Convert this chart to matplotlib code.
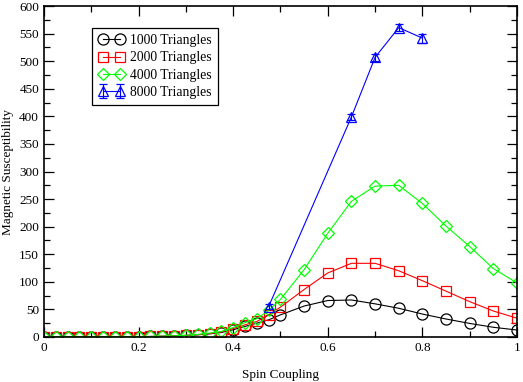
import matplotlib

matplotlib.use("Agg")
import matplotlib.pyplot as plt
import numpy as np

plt.rcParams["font.family"] = ["Liberation Serif", "DejaVu Serif"]
plt.rcParams["mathtext.fontset"] = "stix"

# spin coupling grid: fine steps up to 0.5, then 0.05
x_fine = [0.0, 0.025, 0.05, 0.075, 0.1, 0.125, 0.15, 0.175, 0.2, 0.225, 0.25,
          0.275, 0.3, 0.325, 0.35, 0.375, 0.4, 0.425, 0.45, 0.475]
x_coarse = [0.5, 0.55, 0.6, 0.65, 0.7, 0.75, 0.8, 0.85, 0.9, 0.95, 1.0]
x_small = x_fine + x_coarse

low_1000 = [0, 0, 0, 0, 0, 0, 0.2, 0.3, 0.5, 0.8, 1.2, 1.8, 2.6, 3.8, 5.5, 8, 13, 19, 25, 31]
low_2000 = [0, 0, 0, 0, 0, 0, 0.2, 0.3, 0.5, 0.8, 1.2, 1.8, 2.8, 4, 6, 9, 15, 22, 28, 40]
low_4000 = [0, 0, 0, 0, 0, 0, 0.2, 0.3, 0.5, 0.8, 1.3, 1.9, 3, 4.5, 7, 10, 17, 26, 33, 48]

chi_1000 = low_1000 + [40, 56, 66, 67, 60, 52, 41.5, 32.5, 24.5, 17.5, 12.5]
chi_2000 = low_2000 + [54, 86, 116, 133.5, 133.5, 120, 102, 83, 64, 47, 34]
chi_4000 = low_4000 + [68, 122, 188, 246, 273.5, 275, 242, 201, 164, 124, 98]

x_8000 = [0.475, 0.65, 0.7, 0.75, 0.8]
chi_8000 = [55, 399, 507, 561, 542]
err_8000 = [4, 5, 6, 7, 8]

fig = plt.figure(figsize=(5.23, 3.82), dpi=100)
ax = fig.add_axes([0.084, 0.118, 0.9045, 0.866])

ax.plot(x_small, chi_1000, "-o", color="black", lw=0.8, ms=8, mfc="none", mew=0.9,
        label="1000 Triangles")
ax.plot(x_small, chi_2000, "-s", color="#ff0000", lw=0.8, ms=7.5, mfc="none", mew=0.9,
        label="2000 Triangles")
ax.plot(x_small, chi_4000, "-D", color="#00ff00", lw=0.8, ms=6, mfc="none", mew=0.9,
        label="4000 Triangles")
ax.errorbar(x_8000, chi_8000, yerr=err_8000, fmt="-^", color="#0000ff", lw=0.8, ms=7.5,
            mfc="none", mew=0.9, capsize=3, elinewidth=0.8, label="8000 Triangles")

ax.set_xlim(0, 1)
ax.set_ylim(0, 600)
ax.set_xticks([0, 0.2, 0.4, 0.6, 0.8, 1.0])
ax.set_xticklabels(["0", "0.2", "0.4", "0.6", "0.8", "1"])
ax.set_xticks(np.arange(0.1, 1.0, 0.2), minor=True)
ax.set_yticks(np.arange(0, 601, 50))
ax.set_yticks(np.arange(25, 600, 50), minor=True)
ax.tick_params(which="both", direction="in", top=True, right=True, labelsize=9.5, width=0.9)
ax.tick_params(which="major", length=7)
ax.tick_params(which="minor", length=4)
for s in ax.spines.values():
    s.set_linewidth(1.2)

ax.set_xlabel("Spin Coupling", fontsize=9.5, labelpad=11)
ax.set_ylabel("Magnetic Susceptibility", fontsize=9.5, labelpad=4)

handles, labels = ax.get_legend_handles_labels()
leg = ax.legend(handles, labels, loc="upper left", bbox_to_anchor=(0.088, 0.955), numpoints=2,
                fontsize=9.8, fancybox=False, edgecolor="black", framealpha=1,
                handlelength=1.9, borderpad=0.45, labelspacing=0.32, handletextpad=0.4)
leg.get_frame().set_linewidth(0.9)

fig.savefig("out.png", dpi=100)
